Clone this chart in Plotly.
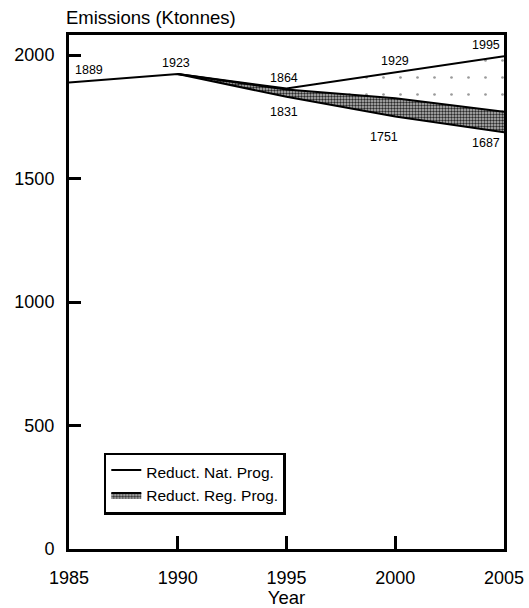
import plotly.graph_objects as go

# Emissions in Ktonnes
years = [1985, 1990, 1995, 2000, 2005]
baseline = [1889, 1923, 1864, 1929, 1995]          # no reduction
national = [None, 1923, 1860, 1825, 1770]          # after national programme
regional = [None, 1923, 1831, 1751, 1687]          # after regional programme

# (year, value, text, anchor, xshift, yshift)
value_labels = [
    (1985, 1889, "1889", "left", 4, 12),
    (1990, 1923, "1923", "center", -2, 11),
    (1995, 1864, "1864", "center", -3, 11),
    (2000, 1929, "1929", "center", 0, 12),
    (2005, 1995, "1995", "right", -2, 11),
    (1995, 1831, "1831", "center", -3, -15),
    (2000, 1751, "1751", "center", -11, -20),
    (2005, 1687, "1687", "right", -2, -11),
]

FONT = "Liberation Sans, Arial, Helvetica, sans-serif"
line = dict(color="black", width=2)

fig = go.Figure()

fig.add_trace(go.Scatter(
    x=years[1:], y=regional[1:], mode="lines", line=line,
    showlegend=False, hoverinfo="skip"))

fig.add_trace(go.Scatter(
    x=years[1:], y=national[1:], mode="lines", line=line,
    fill="tonexty", fillcolor="#a8a8a8",
    fillpattern=dict(shape=".", size=3, solidity=0.5,
                     fgcolor="#2a2a2a", bgcolor="#bdbdbd", fillmode="replace"),
    name="Reduct. Reg. Prog.", legendrank=2))

fig.add_trace(go.Scatter(
    x=years, y=baseline, mode="lines", line=line,
    fill="tonexty", fillcolor="white",
    fillpattern=dict(shape=".", size=17, solidity=0.02,
                     fgcolor="#9a9a9a", bgcolor="white", fillmode="replace"),
    name="Reduct. Nat. Prog.", legendrank=1))

for x, y, txt, anchor, xs, ys in value_labels:
    fig.add_annotation(x=x, y=y, text=txt, showarrow=False,
                       xanchor=anchor, yanchor="middle",
                       xshift=xs, yshift=ys,
                       font=dict(family=FONT, size=12.5, color="black"))

fig.add_annotation(x=0, y=1, xref="paper", yref="paper", xshift=-5, yshift=5,
                   text="Emissions (Ktonnes)", showarrow=False,
                   xanchor="left", yanchor="bottom",
                   font=dict(family=FONT, size=18.5, color="black"))

fig.update_layout(
    width=529, height=608,
    margin=dict(l=69, r=25, t=35, b=59, autoexpand=False),
    paper_bgcolor="white", plot_bgcolor="white",
    font=dict(family=FONT, color="black"),
    legend=dict(x=0.08, y=0.187, xanchor="left", yanchor="top",
                traceorder="normal",
                bgcolor="white", bordercolor="black", borderwidth=2.5,
                font=dict(family=FONT, size=15.5, color="black"),
                itemwidth=30, tracegroupgap=2),
    xaxis=dict(range=[1985, 2005], tickvals=[1985, 1990, 1995, 2000, 2005],
               ticks="inside", ticklen=13, tickwidth=2.5, tickcolor="black",
               ticklabelstandoff=10,
               showline=True, linecolor="black", linewidth=3, mirror=True,
               showgrid=False, zeroline=False,
               tickfont=dict(family=FONT, size=18),
               title=dict(text="Year", font=dict(family=FONT, size=18.5), standoff=2)),
    yaxis=dict(range=[0, 2081], tickvals=[0, 500, 1000, 1500, 2000],
               ticks="inside", ticklen=12, tickwidth=2.5, tickcolor="black",
               ticklabelstandoff=8,
               showline=True, linecolor="black", linewidth=3, mirror=True,
               showgrid=False, zeroline=False,
               tickfont=dict(family=FONT, size=18)),
)

fig.write_html("out.html")
